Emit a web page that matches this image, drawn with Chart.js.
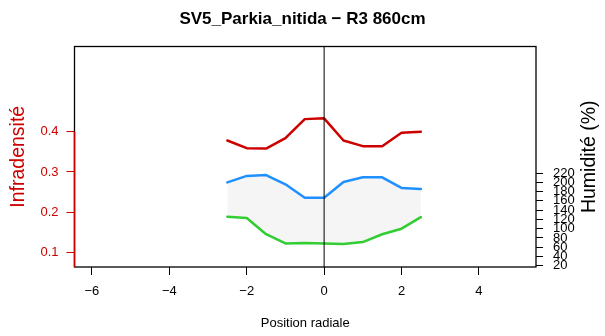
<!DOCTYPE html>
<html>
<head>
<meta charset="utf-8">
<script src="https://cdn.jsdelivr.net/npm/chart.js@4.4.0/dist/chart.umd.min.js"></script>
<style>
    body { margin: 0; background: #fff; }
    #chart { display: block; }
</style>
</head>
<body>
<canvas id="chart" width="605" height="336"></canvas>
<script>

// data
var positions = [-2.5, -2, -1.5, -1, -0.5, 0, 0.5, 1, 1.5, 2, 2.5];
var infradensite = [0.378, 0.359, 0.358, 0.384, 0.431, 0.433, 0.378, 0.364, 0.364, 0.397, 0.400];
var humiditeMax = [200, 214, 216, 196, 167, 167, 201, 211, 211, 188, 186];
var humiditeMin = [126, 123, 88, 68, 69, 68, 67, 71, 88, 100, 125];

var xTicks = [-6, -4, -2, 0, 2, 4];
var infraTicks = [0.1, 0.2, 0.3, 0.4];
var humTicks = [20, 40, 60, 80, 100, 120, 140, 160, 180, 200, 220];

var FONT = "'Liberation Sans', Arial, Helvetica, sans-serif";
var RED = "#cd0000";

function toPoints(values) {
    return values.map(function (v, i) {
        return { x: positions[i], y: v };
    });
}

// frame, red part of the left axis, vertical line at 0, right title
var framePlugin = {
    id: "frame",
    afterDatasetsDraw: function (chart) {
        var ctx = chart.ctx;
        var area = chart.chartArea;
        var x0 = chart.scales.x.getPixelForValue(0);
        ctx.save();
        ctx.strokeStyle = "#000";
        ctx.lineWidth = 1;
        ctx.beginPath();
        ctx.moveTo(x0, area.top);
        ctx.lineTo(x0, area.bottom);
        ctx.stroke();
        ctx.restore();
    },
    afterDraw: function (chart) {
        var ctx = chart.ctx;
        var area = chart.chartArea;
        ctx.save();
        ctx.strokeStyle = "#000";
        ctx.lineWidth = 1.3;
        ctx.strokeRect(area.left, area.top, area.right - area.left, area.bottom - area.top);

        var yTop = chart.scales.y.getPixelForValue(infraTicks[infraTicks.length - 1]);
        ctx.strokeStyle = RED;
        ctx.lineWidth = 1.6;
        ctx.beginPath();
        ctx.moveTo(area.left, yTop);
        ctx.lineTo(area.left, area.bottom);
        ctx.stroke();

        // right title reads bottom to top, like the left one
        ctx.fillStyle = "#000";
        ctx.font = "19.5px " + FONT;
        ctx.textAlign = "center";
        ctx.textBaseline = "middle";
        ctx.translate(590, (area.top + area.bottom) / 2);
        ctx.rotate(-Math.PI / 2);
        ctx.fillText("Humidité (%)", 0, 0);
        ctx.restore();
    }
};

new Chart(document.getElementById("chart"), {
    type: "line",
    data: {
        datasets: [{
            label: "Humidité max",
            data: toPoints(humiditeMax),
            yAxisID: "y2",
            borderColor: "#1e90ff",
            backgroundColor: "#f5f5f5",
            borderWidth: 2.5,
            fill: "+1",
            order: 2
        }, {
            label: "Humidité min",
            data: toPoints(humiditeMin),
            yAxisID: "y2",
            borderColor: "#32cd32",
            borderWidth: 2.5,
            fill: false,
            order: 1
        }, {
            label: "Infradensité",
            data: toPoints(infradensite),
            yAxisID: "y",
            borderColor: RED,
            borderWidth: 2.5,
            fill: false,
            order: 0
        }]
    },
    options: {
        responsive: false,
        devicePixelRatio: 1,
        animation: false,
        layout: { padding: 0 },
        elements: {
            point: { radius: 0 },
            line: { tension: 0, borderJoinStyle: "round", borderCapStyle: "round" }
        },
        plugins: {
            legend: { display: false },
            tooltip: { enabled: false },
            title: {
                display: true,
                text: "SV5_Parkia_nitida − R3 860cm",
                color: "#000",
                font: { family: FONT, size: 17, weight: "bold" },
                padding: { top: 9, bottom: 17.1 }
            }
        },
        scales: {
            x: {
                type: "linear",
                position: "bottom",
                min: -6.45,
                max: 5.475,
                afterFit: function (s) { s.height = 69; },
                afterBuildTicks: function (s) {
                    s.ticks = xTicks.map(function (v) { return { value: v }; });
                },
                border: { display: false },
                grid: { drawOnChartArea: false, tickLength: 8, color: "#000" },
                ticks: {
                    autoSkip: false,
                    maxRotation: 0,
                    padding: 9,
                    color: "#000",
                    font: { family: FONT, size: 13 },
                    callback: function (v) { return String(v).replace("-", "−"); }
                },
                title: {
                    display: true,
                    text: "Position radiale",
                    color: "#000",
                    font: { family: FONT, size: 13 },
                    padding: { top: 0, bottom: 5 }
                }
            },
            y: {
                type: "linear",
                position: "left",
                min: 0.0645,
                max: 0.611,
                afterFit: function (s) { s.width = 74.5; },
                afterBuildTicks: function (s) {
                    s.ticks = infraTicks.map(function (v) { return { value: v }; });
                },
                border: { display: false },
                grid: { drawOnChartArea: false, tickLength: 8, color: RED },
                ticks: {
                    autoSkip: false,
                    padding: 8,
                    color: RED,
                    font: { family: FONT, size: 13 },
                    callback: function (v) { return v.toFixed(1); }
                },
                title: {
                    display: true,
                    text: "Infradensité",
                    color: RED,
                    font: { family: FONT, size: 19.5 },
                    padding: { top: 7, bottom: 0 }
                }
            },
            y2: {
                type: "linear",
                position: "right",
                min: 17.2,
                max: 493.7,
                afterFit: function (s) { s.width = 69; },
                afterBuildTicks: function (s) {
                    s.ticks = humTicks.map(function (v) { return { value: v }; });
                },
                border: { display: false },
                grid: { drawOnChartArea: false, tickLength: 7, color: "#000" },
                ticks: {
                    autoSkip: false,
                    padding: 10,
                    color: "#000",
                    font: { family: FONT, size: 13 }
                }
            }
        }
    },
    plugins: [framePlugin]
});

</script>
</body>
</html>
